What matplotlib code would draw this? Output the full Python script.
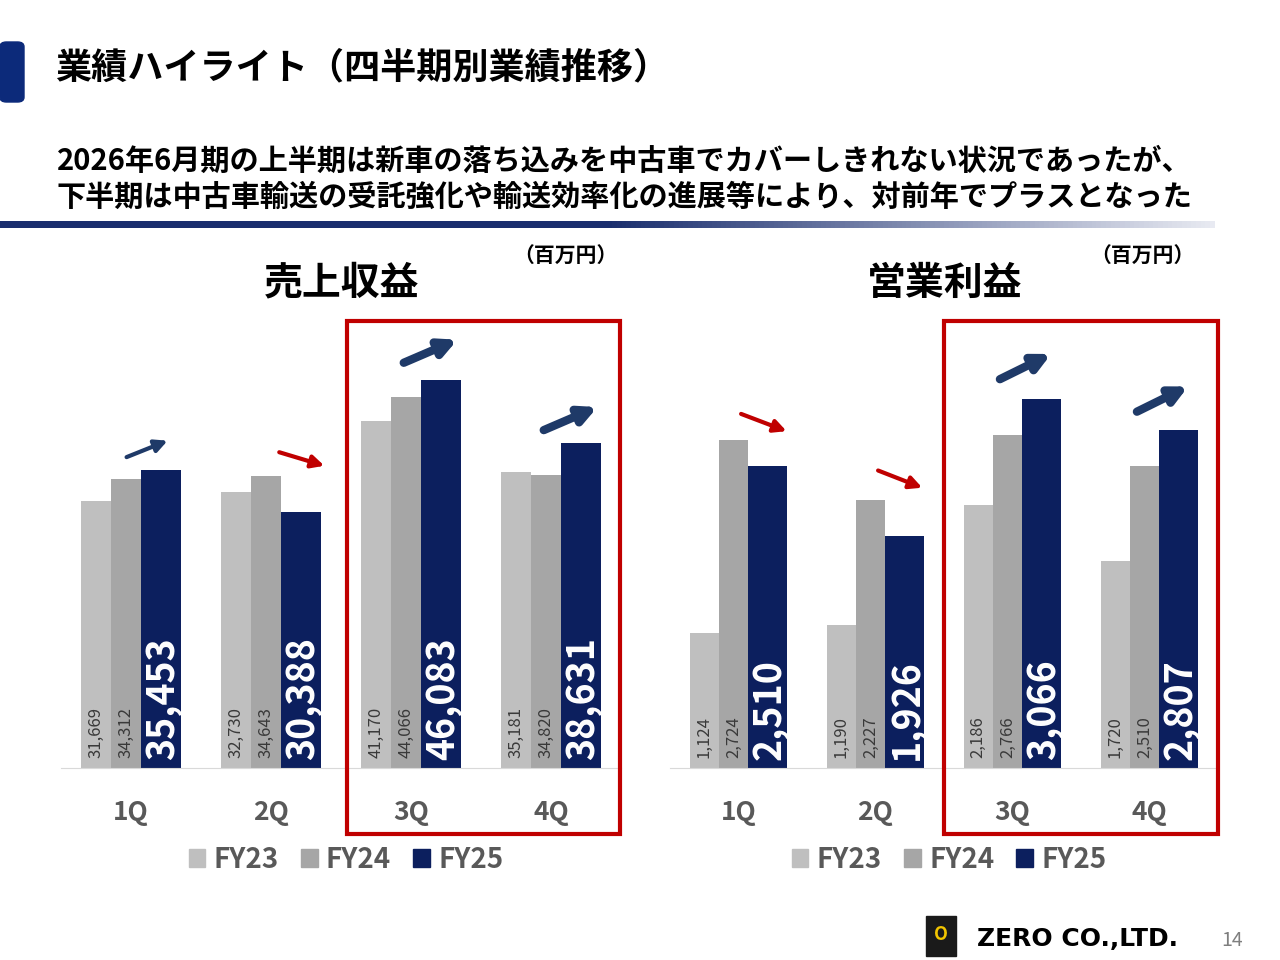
import matplotlib
matplotlib.use("Agg")
import matplotlib.pyplot as plt
from matplotlib.patches import Rectangle, FancyBboxPatch
from matplotlib.colors import LinearSegmentedColormap
import numpy as np

plt.rcParams['font.family'] = ['Noto Sans CJK JP', 'DejaVu Sans']

quarters = ['1Q', '2Q', '3Q', '4Q']
series = ['FY23', 'FY24', 'FY25']
sales_fy23 = [31669, 32730, 41170, 35181]
sales_fy24 = [34312, 34643, 44066, 34820]
sales_fy25 = [35453, 30388, 46083, 38631]
op_fy23 = [1124, 1190, 2186, 1720]
op_fy24 = [2724, 2227, 2766, 2510]
op_fy25 = [2510, 1926, 3066, 2807]

colors = ['#BFBFBF', '#A6A6A6', '#0C1F5E']
navy = '#1F3A68'
red = '#C00000'

fig = plt.figure(figsize=(12.8, 9.6), dpi=100)

def fx(px): return px / 1280
def fy(py): return 1 - py / 960

# header
fig.patches.append(FancyBboxPatch((fx(0), fy(102)), fx(24), 60/960, boxstyle="round,pad=0,rounding_size=0.005",
                                  transform=fig.transFigure, color='#0C2A7A'))
fig.text(fx(55), fy(68), '業績ハイライト（四半期別業績推移）', fontsize=26, fontweight='bold', va='center')
fig.text(fx(57), fy(161), '2026年6月期の上半期は新車の落ち込みを中古車でカバーしきれない状況であったが、',
         fontsize=21, fontweight='bold', va='center')
fig.text(fx(57), fy(197), '下半期は中古車輸送の受託強化や輸送効率化の進展等により、対前年でプラスとなった',
         fontsize=21, fontweight='bold', va='center')
grad = np.linspace(0, 1, 256).reshape(1, -1)
gax = fig.add_axes([0, fy(228), fx(1215), 7/960])
cm = LinearSegmentedColormap.from_list('g', ['#1A2E6E', '#1A2E6E', '#E8EAF2'])
gax.imshow(grad, aspect='auto', cmap=cm)
gax.axis('off')


def draw(left_px, right_px, ymax, d23, d24, d25, title, title_x, unit_x, arrows):
    ax = fig.add_axes([fx(left_px), fy(768), fx(right_px - left_px), 448/960])
    x = np.arange(len(quarters))
    widths = [0.214, 0.214, 0.286]
    offsets = [-0.357 + 0.107, -0.357 + 0.321, -0.357 + 0.428 + 0.143]
    data = [d23, d24, d25]
    for i, d in enumerate(data):
        ax.bar(x + offsets[i], d, widths[i], color=colors[i])
        for xi, v in zip(x + offsets[i], d):
            if i < 2:
                ax.text(xi, ymax * 0.022, f'{v:,}', rotation=90, ha='center', va='bottom',
                        fontsize=12, color='#3A3A3A')
            else:
                ax.text(xi + 0.01, ymax * 0.018, f'{v:,}', rotation=90, ha='center', va='bottom',
                        fontsize=27, color='white', fontweight='bold')
    ax.set_xlim(-0.5, 3.5)
    ax.set_ylim(0, ymax)
    for s in ['top', 'right', 'left']:
        ax.spines[s].set_visible(False)
    ax.spines['bottom'].set_color('#D9D9D9')
    ax.set_yticks([])
    ax.set_xticks(x)
    ax.set_xticklabels(quarters, fontsize=19, fontweight='bold', color='#595959')
    ax.tick_params(axis='x', length=0, pad=22)
    for (x0, y0, x1, y1, c, lw) in arrows:
        ax.annotate('', xy=(x1, y1), xytext=(x0, y0), annotation_clip=False,
                    arrowprops=dict(arrowstyle=f'-|>,head_length={0.5+lw*0.08},head_width={0.25+lw*0.04}',
                                    color=c, lw=lw))
    fig.text(fx(title_x), fy(283), title, fontsize=28, fontweight='bold', ha='center', va='center')
    fig.text(fx(unit_x), fy(256), '（百万円）', fontsize=15, fontweight='bold', ha='center', va='center')
    handles = [Rectangle((0, 0), 1, 1, color=c) for c in colors]
    fig.legend(handles, series, loc='center', bbox_to_anchor=(fx((left_px + right_px) / 2 + 5), fy(860)),
               ncol=3, frameon=False, handlelength=0.6, handleheight=0.6,
               handletextpad=0.3, columnspacing=0.8, labelcolor='#595959',
               prop={'weight': 'bold', 'size': 20})
    return ax

s = 53210
arrows_l = [(-0.05, 36800, 0.28, 39000, navy, 3),
            (1.04, 37600, 1.4, 35800, red, 3),
            (1.93, 48000, 2.35, 51000, navy, 6),
            (2.93, 40000, 3.35, 43000, navy, 6)]
draw(61, 621, s, sales_fy23, sales_fy24, sales_fy25, '売上収益', 342, 565, arrows_l)

o = 3722
arrows_r = [(0.0, 2950, 0.37, 2790, red, 3),
            (1.0, 2480, 1.36, 2320, red, 3),
            (1.89, 3220, 2.3, 3450, navy, 6),
            (2.89, 2950, 3.3, 3180, navy, 6)]
draw(670, 1218, o, op_fy23, op_fy24, op_fy25, '営業利益', 945, 1142, arrows_r)

for (x0, x1) in [(347, 620), (944, 1218)]:
    fig.patches.append(Rectangle((fx(x0), fy(834)), fx(x1 - x0), (834 - 321) / 960, fill=False,
                                 edgecolor=red, lw=3, transform=fig.transFigure))

fig.patches.append(Rectangle((fx(926), fy(956)), fx(30), 40/960, color='#1A1A1A', transform=fig.transFigure))
fig.text(fx(941), fy(934), 'O', fontsize=13, color='#F2C500', ha='center', va='center', fontweight='bold')
fig.text(fx(977), fy(939), 'ZERO CO.,LTD.', fontsize=18, fontweight='bold', va='center', family='DejaVu Sans')
fig.text(fx(1232), fy(941), '14', fontsize=14, color='#7F7F7F', ha='center', va='center')

fig.savefig('out.png', dpi=100)
